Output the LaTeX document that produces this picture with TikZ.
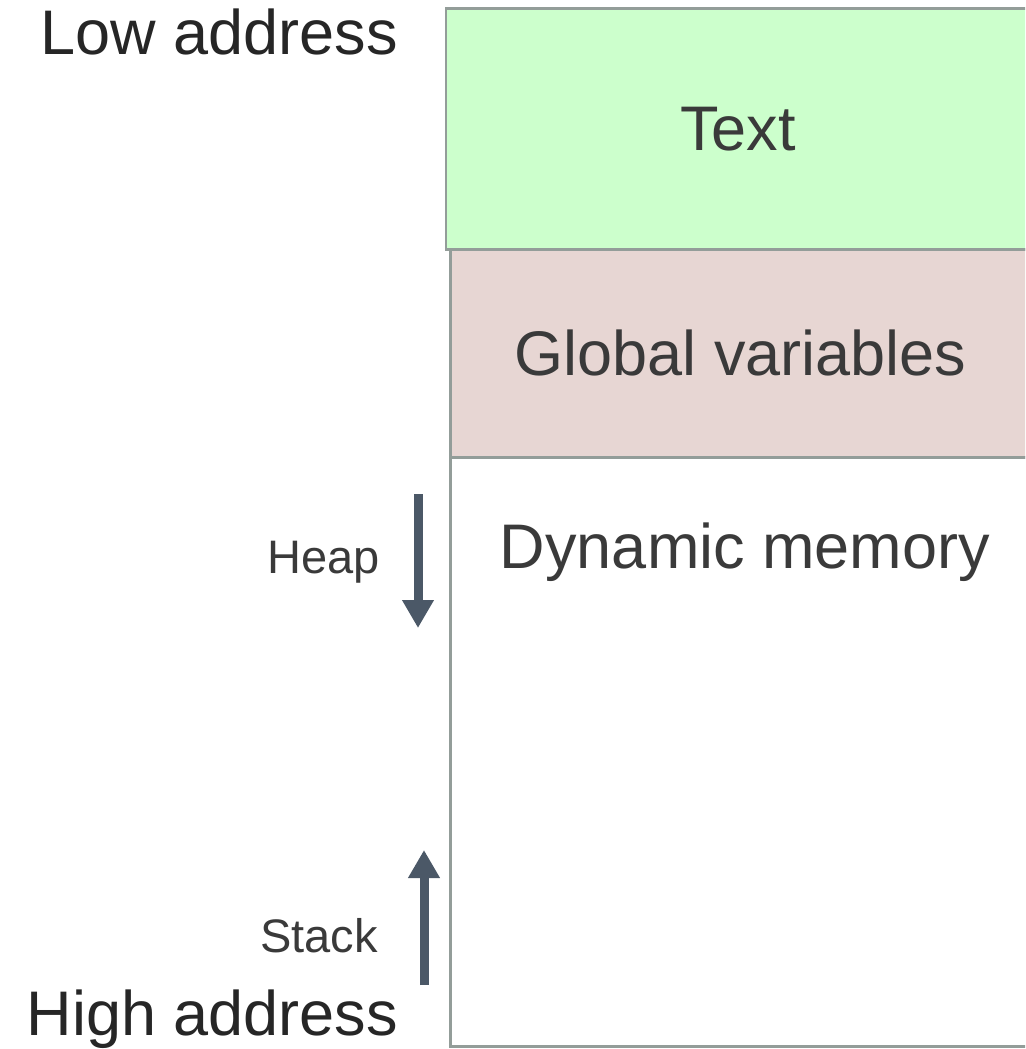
\documentclass[tikz,border=0pt]{standalone}
\usepackage{fontspec}
\setmainfont{Liberation Sans}
\usetikzlibrary{arrows.meta,positioning}
\definecolor{textgreen}{HTML}{CCFFCC}
\definecolor{globalpink}{HTML}{E7D6D3}
\definecolor{segline}{HTML}{939D99}
\definecolor{arrowgrey}{HTML}{4B5867}
\definecolor{labelgrey}{HTML}{3A3A3A}
\tikzset{
  segment/.style={draw=segline, line width=2.5pt, rectangle, inner sep=0pt,
    font=\fontsize{63}{70}\selectfont, text=labelgrey},
  addr/.style={font=\fontsize{63}{70}\selectfont, text=black!85, inner sep=0pt},
  growth/.style={font=\fontsize{47}{52}\selectfont, text=labelgrey, inner sep=0pt},
  growarrow/.style={draw=arrowgrey, line width=9pt, -{Triangle[width=30pt,length=28pt]}}
}

\begin{document}
\begin{tikzpicture}[x=1pt,y=-1pt]
            \useasboundingbox (0,0) rectangle (1025,1049);
            \clip (0,0) rectangle (1025,1049);

            % memory segments
            \node [segment, fill=textgreen, minimum width=584pt, minimum height=241pt] (text) at (738,129) {Text};
            \node [segment, fill=globalpink, minimum width=581pt, minimum height=208pt, anchor=north west] (global) at (449,248) {Global variables};
            \node [segment, fill=white, minimum width=581pt, minimum height=589pt, anchor=north west] (dynamic) at (449,456) {};
            \node [segment, draw=none, anchor=base] (dynlabel) at (745,568) {Dynamic memory};

            % addresses
            \node [addr, anchor=base east] (low) at (398,55) {Low address};
            \node [addr, anchor=base east] (high) at (398,1035) {High address};

            % heap and stack growth
            \node [growth, anchor=base east] (heap) at (380,573) {Heap};
            \node [growth, anchor=base east] (stack) at (378,952) {Stack};
            \coordinate (heaptop) at (418,494);
            \coordinate (heapend) at (418,628);
            \coordinate (stackbottom) at (424,985);
            \coordinate (stackend) at (424,850);
            \draw [growarrow] (heaptop) -- (heapend);
            \draw [growarrow] (stackbottom) -- (stackend);
        \end{tikzpicture}
\end{document}
